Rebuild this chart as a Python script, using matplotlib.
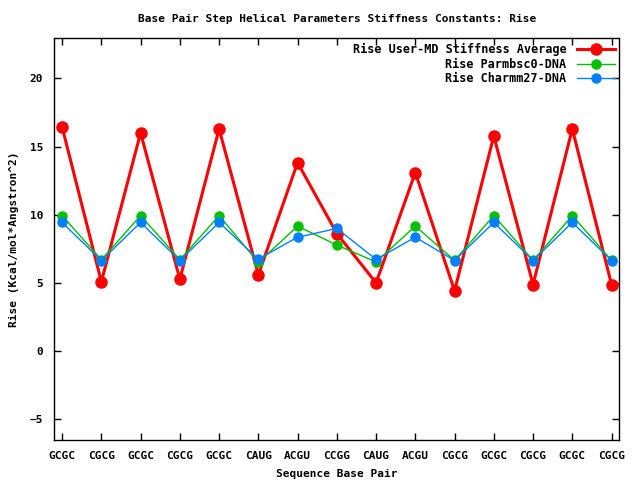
import matplotlib
matplotlib.use("Agg")
import matplotlib.pyplot as plt

# Данные
base_pairs = ['GCGC', 'CGCG', 'GCGC', 'CGCG', 'GCGC', 'CAUG', 'ACGU', 'CCGG',
              'CAUG', 'ACGU', 'CGCG', 'GCGC', 'CGCG', 'GCGC', 'CGCG']
user_md = [16.43, 5.08, 16.0, 5.27, 16.29, 5.59, 13.82, 8.62, 5.0, 13.09,
           4.42, 15.77, 4.88, 16.29, 4.88]
parmbsc0 = [9.93, 6.7, 9.93, 6.7, 9.93, 6.5, 9.16, 7.77, 6.54, 9.16,
            6.65, 9.93, 6.65, 9.93, 6.65]
charmm27 = [9.43, 6.64, 9.43, 6.64, 9.43, 6.74, 8.35, 8.99, 6.72, 8.35,
            6.64, 9.43, 6.64, 9.43, 6.64]

plt.rcParams['font.family'] = 'DejaVu Sans Mono'
plt.rcParams['font.weight'] = 'bold'
plt.rcParams['font.size'] = 8

fig = plt.figure(figsize=(6.4, 4.8), dpi=100)
ax = fig.add_axes([0.0848, 0.084, 0.883, 0.836])

x = list(range(len(base_pairs)))
ax.plot(x, user_md, color='#ff0000', lw=2.2, marker='o', ms=8,
        label='Rise User-MD Stiffness Average')
ax.plot(x, parmbsc0, color='#00c000', lw=1, marker='o', ms=6.5,
        label='Rise Parmbsc0-DNA')
ax.plot(x, charmm27, color='#0080ff', lw=1, marker='o', ms=6.5,
        label='Rise Charmm27-DNA')

ax.set_xlim(-0.2, 14.2)
ax.set_ylim(-6.5, 22.93)
ax.set_xticks(x)
ax.set_xticklabels(base_pairs)
ax.set_yticks([-5, 0, 5, 10, 15, 20])
ax.tick_params(direction='in', length=5, width=1, top=True, right=True,
               labeltop=False, labelright=False, pad=8)
for s in ax.spines.values():
    s.set_linewidth(1)

ax.set_title('Base Pair Step Helical Parameters Stiffness Constants: Rise',
             fontsize=8, fontweight='bold', pad=12)
ax.set_xlabel('Sequence Base Pair', fontweight='bold', labelpad=6)
ax.set_ylabel('Rise (Kcal/mol*Angstron^2)', fontweight='bold', labelpad=8)

ax.legend(loc='upper right', frameon=False, markerfirst=False,
          handlelength=3.2, borderaxespad=0.2, borderpad=0.2,
          labelspacing=0.12, handletextpad=0.9,
          prop={'size': 8.5, 'weight': 'bold'})

fig.savefig('out.png', dpi=100)
